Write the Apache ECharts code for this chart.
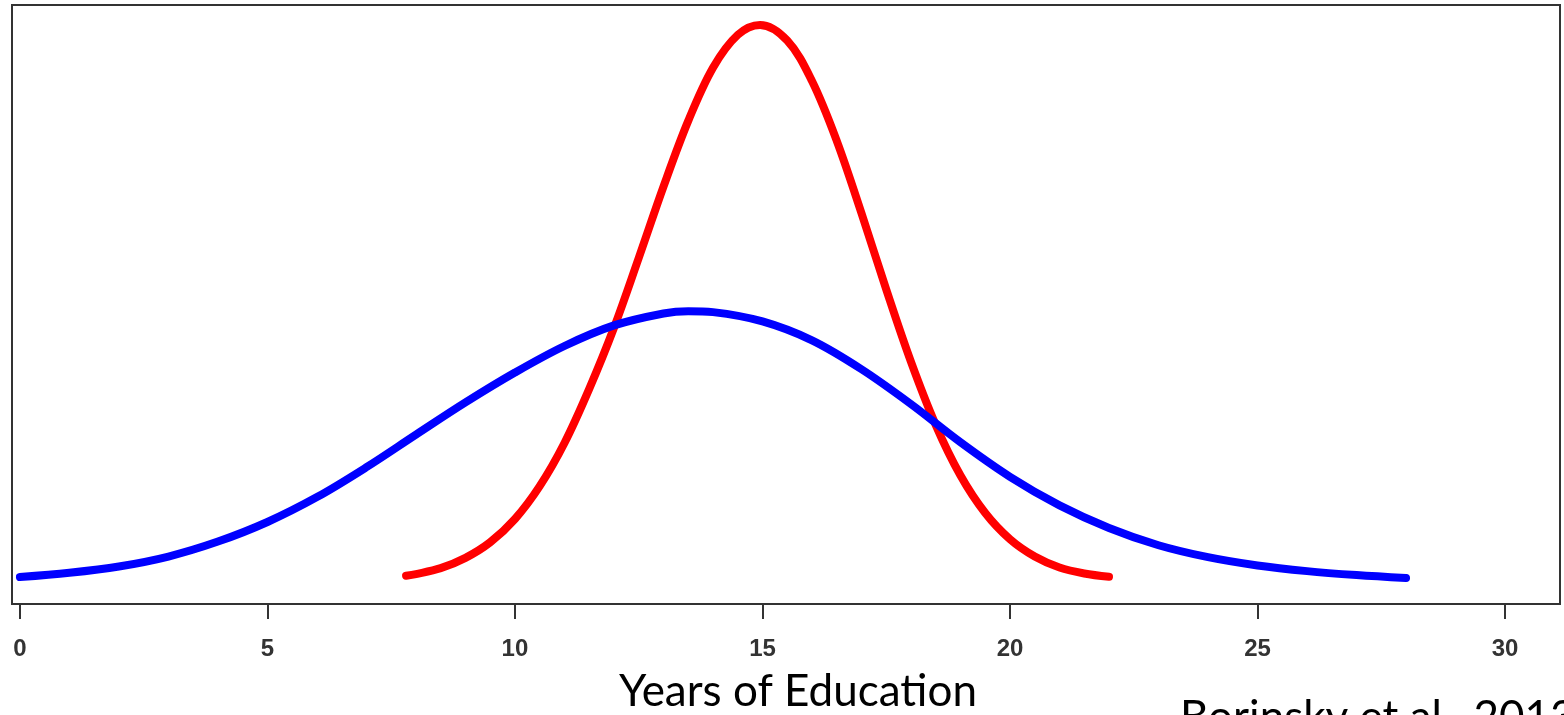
<!DOCTYPE html>
<html>
<head>
<meta charset="utf-8">
<script src="https://cdn.jsdelivr.net/npm/echarts@6/dist/echarts.min.js"></script>
<style>
html,body{margin:0;padding:0;background:#fff;}
#chart{width:1564px;height:715px;}
</style>
</head>
<body>
<div id="chart"></div>
<script>
// Years of education (x) and density (y)
const redX = [7.8, 8.0, 8.5, 9.0, 9.5, 10.0, 10.5, 11.0, 11.5, 12.0, 12.5, 13.0, 13.5, 14.0, 14.5, 14.95, 15.5, 16.0, 16.5, 17.0, 17.5, 18.0, 18.5, 19.0, 19.5, 20.0, 20.5, 21.0, 21.5, 22.0];
const redY = [0.0018, 0.0023, 0.0041, 0.0072, 0.0119, 0.0189, 0.0288, 0.0418, 0.0581, 0.0765, 0.0975, 0.1190, 0.1388, 0.1548, 0.1647, 0.1677, 0.1630, 0.1508, 0.1328, 0.1110, 0.0880, 0.0662, 0.0472, 0.0320, 0.0207, 0.0128, 0.0076, 0.0043, 0.0025, 0.0015];
const blueX = [0, 1, 2, 3, 4, 5, 6, 7, 8, 9, 10, 11, 12, 13, 13.5, 14, 15, 16, 17, 18, 19, 20, 21, 22, 23, 24, 25, 26, 27, 28];
const blueY = [0.0014, 0.0027, 0.0046, 0.0076, 0.0121, 0.0180, 0.0255, 0.0345, 0.0443, 0.0540, 0.0630, 0.0710, 0.0772, 0.0808, 0.0815, 0.0812, 0.0784, 0.0727, 0.0640, 0.0535, 0.0420, 0.0316, 0.0230, 0.0162, 0.0110, 0.0074, 0.0049, 0.0032, 0.0020, 0.0011];
const xTicks = [0, 5, 10, 15, 20, 25, 30];
const xTitle = 'Years of Education';
const citation = 'Borinsky et al., 2013';

const redData = redX.map((x, i) => [x, redY[i]]);
const blueData = blueX.map((x, i) => [x, blueY[i]]);

const chart = echarts.init(document.getElementById('chart'), null, {renderer: 'canvas'});
chart.setOption({
  animation: false,
  backgroundColor: '#ffffff',
  grid: {
    left: 12, top: 5, width: 1548, height: 599,
    show: true, borderColor: '#333333', borderWidth: 2, backgroundColor: 'transparent'
  },
  xAxis: {
    type: 'value',
    min: -0.16, max: 31.11,
    axisLine: {show: false, onZero: false},
    splitLine: {show: false},
    axisTick: {show: true, customValues: xTicks, length: 15, inside: false,
      lineStyle: {color: '#333333', width: 2}},
    axisLabel: {show: true, customValues: xTicks, margin: 33,
      fontFamily: 'Liberation Sans, Arial, sans-serif', fontWeight: 'bold',
      fontSize: 24, color: '#333333', showMinLabel: true, showMaxLabel: true}
  },
  yAxis: {
    type: 'value', min: -0.0067, max: 0.1737, show: false,
    axisLine: {onZero: false},
    splitLine: {show: false}
  },
  series: [
    {type: 'line', data: redData, showSymbol: false, smooth: 0.35,
      lineStyle: {color: '#ff0000', width: 8, cap: 'round', join: 'round'}},
    {type: 'line', data: blueData, showSymbol: false, smooth: 0.35,
      lineStyle: {color: '#0000ff', width: 8, cap: 'round', join: 'round'}}
  ],
  graphic: [
    {type: 'text', left: 619, top: 670,
      style: {text: xTitle, font: '44px Lato, "Open Sans", sans-serif', fill: '#000'}},
    {type: 'text', left: 1180, top: 696,
      style: {text: citation, font: '44px Lato, "Open Sans", sans-serif', fill: '#000'}}
  ]
});
</script>
</body>
</html>
